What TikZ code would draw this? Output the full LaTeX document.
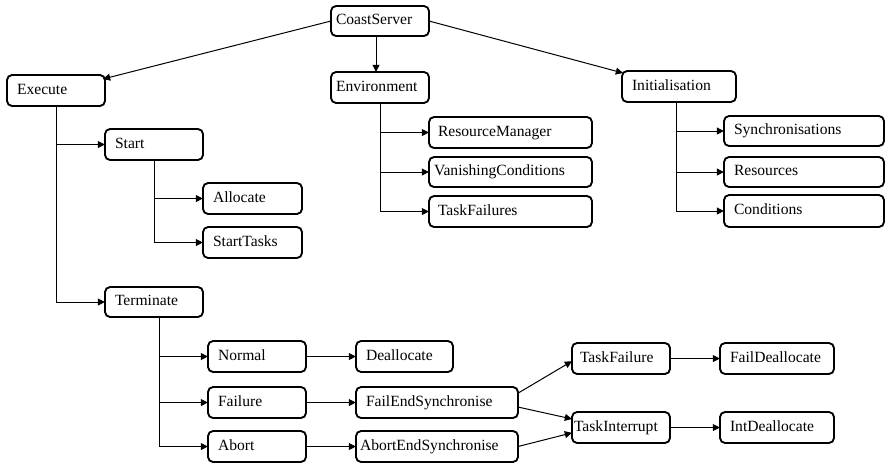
\documentclass[tikz,border=0pt]{standalone}
\usepackage{fontspec}
\setmainfont{Liberation Serif}
\usetikzlibrary{arrows.meta}

% box: name, left, top, right, bottom, left padding, label (pixel-like units)
\newcommand\bx[7]{%
  \pgfmathsetlengthmacro\bxh{(#5-#3)*0.75pt}%
  \pgfmathsetlengthmacro\bxt{(#4-#2-2*#6)*0.75pt}%
  \pgfmathsetlengthmacro\bxp{#6*0.75pt}%
  \node[box, anchor=north west, minimum height=\bxh, text width=\bxt,
        inner xsep=\bxp] (#1) at (#2,#3) {#7};%
}

\tikzset{
  box/.style={draw, line width=1.4pt, rounded corners=3.8pt, align=left,
    inner ysep=0pt, outer sep=0pt, fill=white,
    font=\fontsize{11.7}{14}\selectfont, text height=1.5ex, text depth=.3ex},
  arr/.style={line width=0.75pt, -{Triangle[length=5.4pt,width=5.2pt]}},
}

\begin{document}
\begin{tikzpicture}[x=0.75pt, y=-0.75pt]
\useasboundingbox (0,0) rectangle (885,465);

% boxes
\bx{cs}{331}{6}{429}{36}{5}{CoastServer}
\bx{exe}{7}{75}{105}{106}{10}{Execute}
\bx{env}{331}{72}{429}{103}{5}{Environment}
\bx{init}{622}{71}{736}{102}{10}{Initialisation}

\bx{start}{105}{129}{203}{160}{10}{Start}
\bx{alloc}{203}{183}{302}{214}{10}{Allocate}
\bx{stasks}{203}{227}{302}{258}{10}{StartTasks}

\bx{rm}{429}{117}{592}{148}{9}{ResourceManager}
\bx{vc}{429}{157}{592}{187}{5}{VanishingConditions}
\bx{tfs}{429}{196}{592}{227}{9}{TaskFailures}

\bx{sync}{724}{116}{884}{146}{10}{Synchronisations}
\bx{res}{724}{157}{884}{187}{10}{Resources}
\bx{cond}{724}{195}{884}{227}{10}{Conditions}

\bx{term}{105}{287}{203}{317}{10}{Terminate}
\bx{normal}{208}{341}{306}{372}{10}{Normal}
\bx{failure}{208}{387}{306}{418}{10}{Failure}
\bx{abort}{208}{431}{306}{462}{10}{Abort}

\bx{dealloc}{356}{341}{453}{372}{10}{Deallocate}
\bx{fes}{356}{387}{518}{418}{10}{FailEndSynchronise}
\bx{aes}{356}{431}{518}{462}{4}{AbortEndSynchronise}

\bx{tf}{572}{343}{670}{374}{8}{TaskFailure}
\bx{ti}{572}{412}{670}{443}{2}{TaskInterrupt}
\bx{fdealloc}{720}{343}{834}{374}{10}{FailDeallocate}
\bx{idealloc}{720}{412}{834}{443}{10}{IntDeallocate}

% top level
\draw[arr] (cs.west) -- ([shift={(-2,4)}]exe.north east);
\draw[arr] ([xshift=-3pt]cs.south) -- ([xshift=-3pt]env.north);
\draw[arr] (cs.east) -- ([shift={(1,2)}]init.north west);

% Execute subtree
\draw[arr] (exe.south) |- (start.west);
\draw[arr] (exe.south) |- (term.west);
\draw[arr] (start.south) |- (alloc.west);
\draw[arr] (start.south) |- (stasks.west);

% Environment subtree
\draw[arr] (env.south) |- (rm.west);
\draw[arr] (env.south) |- (vc.west);
\draw[arr] (env.south) |- (tfs.west);

% Initialisation subtree
\draw[arr] ([xshift=-2.25pt]init.south) |- (sync.west);
\draw[arr] ([xshift=-2.25pt]init.south) |- (res.west);
\draw[arr] ([xshift=-2.25pt]init.south) |- (cond.west);

% Terminate subtree
\draw[arr] ([xshift=3.75pt]term.south) |- (normal.west);
\draw[arr] ([xshift=3.75pt]term.south) |- (failure.west);
\draw[arr] ([xshift=3.75pt]term.south) |- (abort.west);

\draw[arr] (normal.east) -- (dealloc.west);
\draw[arr] (failure.east) -- (fes.west);
\draw[arr] (abort.east) -- (aes.west);

\draw[arr] ([yshift=7pt]fes.east) -- ([yshift=-2pt]tf.west);
\draw[arr] ([yshift=-3.4pt]fes.east) -- ([yshift=6.4pt]ti.west);
\draw[arr] (aes.east) -- ([yshift=-4pt]ti.west);

\draw[arr] (tf.east) -- (fdealloc.west);
\draw[arr] (ti.east) -- (idealloc.west);
\end{tikzpicture}
\end{document}
